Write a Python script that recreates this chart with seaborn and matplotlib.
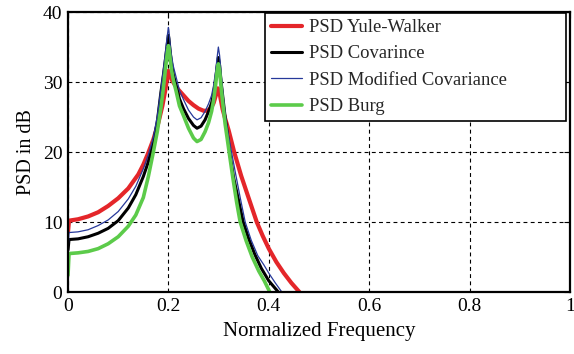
import matplotlib
matplotlib.use("Agg")
import matplotlib.pyplot as plt
import seaborn as sns
import pandas as pd

# ---- data ----
labels = ["PSD Yule-Walker", "PSD Covarince", "PSD Modified Covariance", "PSD Burg"]

f_yw = [0, 0.002, 0.02, 0.04, 0.06, 0.08, 0.1, 0.12, 0.14, 0.15, 0.16, 0.17, 0.18, 0.188,
        0.194, 0.198, 0.2, 0.202, 0.206, 0.212, 0.22, 0.23, 0.24, 0.25, 0.26, 0.27, 0.278,
        0.285, 0.29, 0.295, 0.2985, 0.301, 0.304, 0.308, 0.313, 0.32, 0.331, 0.345, 0.36,
        0.376, 0.388, 0.4, 0.415, 0.43, 0.445, 0.461]
p_yw = [8.6, 10.2, 10.4, 10.8, 11.4, 12.3, 13.4, 14.8, 16.8, 18.2, 19.9, 21.8, 24.2, 26.6,
        28.9, 30.8, 31.6, 31.2, 30.4, 29.7, 28.9, 28.1, 27.3, 26.7, 26.2, 25.9, 25.9,
        26.3, 27.0, 28.2, 29.1, 28.8, 27.6, 26.1, 24.8, 23.1, 20.0, 16.6, 13.4,
        10.0, 8.0, 6.2, 4.3, 2.7, 1.3, 0.0]

f_cov = [0, 0.002, 0.02, 0.04, 0.06, 0.08, 0.1, 0.12, 0.135, 0.15, 0.16, 0.17, 0.178, 0.185,
         0.19, 0.194, 0.197, 0.199, 0.2, 0.201, 0.203, 0.206, 0.21, 0.215, 0.222, 0.23, 0.24,
         0.25, 0.257, 0.265, 0.273, 0.28, 0.286, 0.29, 0.294, 0.297, 0.2995, 0.302, 0.305,
         0.309, 0.313, 0.318, 0.322, 0.33, 0.34, 0.349, 0.36, 0.372, 0.385, 0.4, 0.419]
p_cov = [6.0, 7.5, 7.6, 7.9, 8.4, 9.1, 10.2, 12.0, 13.9, 16.5, 18.6, 21.3, 24.4, 28.5,
         31.0, 33.2, 35.0, 36.1, 36.7, 36.2, 34.7, 32.8, 31.0, 29.6, 27.6, 26.2, 24.8,
         23.8, 23.4, 23.7, 24.6, 25.8, 27.0, 28.4, 30.3, 32.2, 33.5, 32.4, 30.0,
         27.5, 25.0, 22.3, 20.0, 16.3, 13.0, 10.0, 7.6, 5.4, 3.4, 1.6, 0.0]

f_mcov = [0, 0.002, 0.02, 0.04, 0.06, 0.08, 0.1, 0.12, 0.135, 0.15, 0.16, 0.17, 0.178, 0.185,
          0.19, 0.194, 0.197, 0.199, 0.2, 0.201, 0.203, 0.206, 0.21, 0.215, 0.222, 0.23, 0.24,
          0.25, 0.257, 0.265, 0.273, 0.28, 0.286, 0.29, 0.294, 0.297, 0.2995, 0.302, 0.305,
          0.309, 0.313, 0.319, 0.325, 0.333, 0.343, 0.353, 0.365, 0.378, 0.39, 0.4, 0.413, 0.426]
p_mcov = [5.8, 8.5, 8.6, 8.9, 9.5, 10.3, 11.5, 13.3, 15.1, 17.6, 19.6, 22.1, 25.2, 29.0,
          31.8, 34.2, 36.2, 37.3, 37.8, 37.3, 35.7, 33.8, 32.2, 30.8, 28.8, 27.5, 26.0,
          25.0, 24.6, 24.9, 25.8, 26.9, 28.1, 29.5, 31.5, 33.5, 35.0, 33.8, 31.2,
          28.2, 25.5, 22.6, 20.3, 17.2, 13.5, 10.0, 7.4, 5.2, 3.9, 2.7, 1.3, 0.0]

f_burg = [0, 0.002, 0.02, 0.04, 0.06, 0.08, 0.1, 0.12, 0.135, 0.15, 0.16, 0.17, 0.178, 0.185,
          0.19, 0.194, 0.197, 0.2, 0.201, 0.203, 0.206, 0.21, 0.215, 0.222, 0.23, 0.24, 0.25,
          0.257, 0.265, 0.273, 0.28, 0.286, 0.29, 0.294, 0.297, 0.2995, 0.302, 0.305, 0.309,
          0.313, 0.321, 0.328, 0.336, 0.343, 0.355, 0.367, 0.38, 0.391, 0.402]
p_burg = [2.4, 5.5, 5.6, 5.8, 6.2, 6.9, 7.9, 9.4, 11.0, 13.5, 16.5, 20.0, 23.0, 26.3,
          29.2, 31.8, 33.7, 35.2, 34.9, 33.6, 31.8, 30.2, 28.8, 26.6, 25.2, 23.4, 22.0,
          21.5, 21.8, 22.9, 24.2, 25.8, 27.4, 29.6, 31.5, 32.6, 31.6, 29.2, 26.5,
          24.0, 20.0, 16.5, 12.8, 10.0, 7.3, 5.0, 3.0, 1.6, 0.0]

x_ticks = [0, 0.2, 0.4, 0.6, 0.8, 1]
x_tick_labels = ["0", "0.2", "0.4", "0.6", "0.8", "1"]
y_ticks = [0, 10, 20, 30, 40]

series = [(labels[0], f_yw, p_yw), (labels[1], f_cov, p_cov),
          (labels[2], f_mcov, p_mcov), (labels[3], f_burg, p_burg)]
colors = {labels[0]: "#e4262a", labels[1]: "#000000", labels[2]: "#26389a", labels[3]: "#5ccb4a"}
widths = {labels[0]: 3.0, labels[1]: 2.2, labels[2]: 0.9, labels[3]: 2.6}

# ---- figure ----
sns.set_style("white")
plt.rcParams["font.family"] = ["Liberation Serif", "DejaVu Serif"]

fig = plt.figure(figsize=(5.74, 3.54), dpi=100)
ax = fig.add_axes([0.1185, 0.175, 0.8745, 0.791])

for name, fx, py in series:
    df = pd.DataFrame({"f": fx, "p": py})
    sns.lineplot(data=df, x="f", y="p", ax=ax, color=colors[name], linewidth=widths[name],
                 sort=False, estimator=None, label=name, solid_joinstyle="round")

ax.set_xlim(0, 1)
ax.set_ylim(0, 40)
ax.set_xticks(x_ticks)
ax.set_xticklabels(x_tick_labels)
ax.set_yticks(y_ticks)
ax.grid(True, color="black", linestyle=(0, (3.5, 3.0)), linewidth=0.8)
ax.set_axisbelow(True)
ax.tick_params(direction="in", length=4, width=0.8, labelsize=14, colors="black",
               top=True, right=True, pad=4)
for s in ax.spines.values():
    s.set_visible(True)
    s.set_color("black")
    s.set_linewidth(1.6)

ax.set_xlabel("Normalized Frequency", fontsize=15, color="black", labelpad=5)
ax.set_ylabel("PSD in dB", fontsize=14.5, color="black", labelpad=5)

leg = ax.legend(loc="upper left", bbox_to_anchor=(0.392, 0.6, 0.6, 0.396), mode="expand",
                fontsize=13.4, frameon=True, fancybox=False, edgecolor="black", framealpha=1,
                handlelength=1.7, handletextpad=0.33, labelspacing=0.5,
                borderpad=0.32, borderaxespad=0.0)
leg.get_frame().set_linewidth(1.2)

fig.savefig("out.png", dpi=100)
